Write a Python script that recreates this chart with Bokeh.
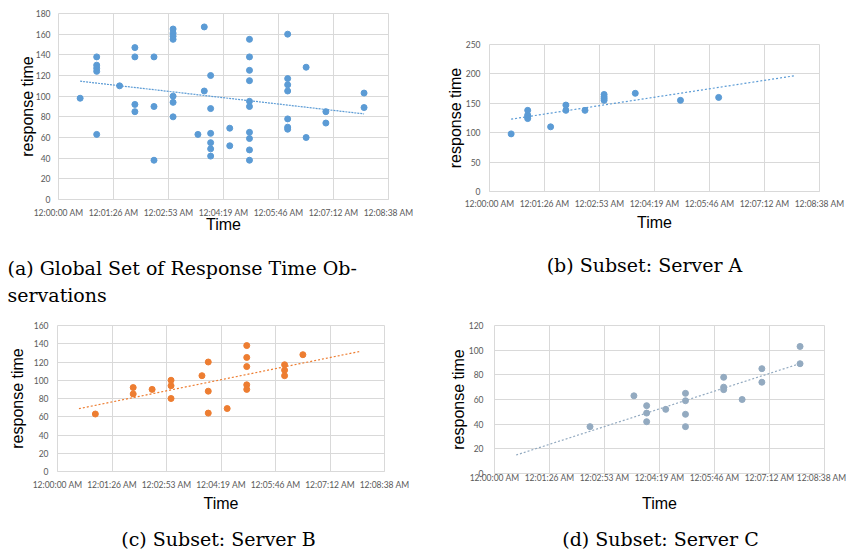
import numpy as np
from bokeh.plotting import figure
from bokeh.models import Range1d, FixedTicker
from bokeh.core.properties import value
from bokeh.layouts import column, row
from bokeh.embed import file_html
from bokeh.resources import INLINE

# x axis: seconds after 12:00:00 AM
time_ticks = [0.0, 86.4, 172.8, 259.2, 345.6, 432.0, 518.4]
time_tick_labels = ["12:00:00 AM", "12:01:26 AM", "12:02:53 AM", "12:04:19 AM",
                    "12:05:46 AM", "12:07:12 AM", "12:08:38 AM"]

server_a_time = [34, 60, 60, 60, 60, 96, 120, 120, 150, 180, 180, 180, 180, 229, 300, 360]
server_a_resp = [98, 138, 130, 127, 124, 110, 147, 138, 138, 165, 161, 158, 155, 167, 155, 160]

server_b_time = [60, 120, 120, 150, 180, 180, 180, 229, 239, 239, 239, 269,
                 300, 300, 300, 300, 300, 360, 360, 360, 389]
server_b_resp = [63, 92, 85, 90, 100, 94, 80, 105, 120, 88, 64, 69,
                 138, 125, 115, 95, 90, 117, 111, 105, 128]

server_c_time = [150, 219, 239, 239, 239, 269, 300, 300, 300, 300, 360, 360, 360,
                 389, 420, 420, 480, 480]
server_c_resp = [38, 63, 55, 49, 42, 52, 65, 59, 48, 38, 78, 70, 68,
                 60, 85, 74, 103, 89]

global_time = server_a_time + server_b_time + server_c_time
global_resp = server_a_resp + server_b_resp + server_c_resp

caption_a = ["(a) Global Set of Response Time Ob-", "servations"]
caption_b = "(b) Subset: Server A"
caption_c = "(c) Subset: Server B"
caption_d = "(d) Subset: Server C"

y_max_a, y_step_a = 180, 20
y_max_b, y_step_b = 250, 50
y_max_c, y_step_c = 160, 20
y_max_d, y_step_d = 120, 20

BLUE = "#5B9BD5"
ORANGE = "#ED7D31"
GREYBLUE = "#93AAC0"
GRID = "#D9D9D9"
TICK_TXT = "#595959"
CAPTION_FONT = "DejaVu Serif"
CAPTION_SIZE = "19px"


def make_panel(times, resp, color, dash, y_max, y_step, width, height,
               left, right, top, bottom, xl_so, xa_so, yl_so, ya_so):
    p = figure(width=width, height=height,
               x_range=Range1d(0, time_ticks[-1]), y_range=Range1d(0, y_max),
               output_backend="svg", toolbar_location=None,
               min_border_left=left, min_border_right=right,
               min_border_top=top, min_border_bottom=bottom,
               background_fill_color="white", border_fill_color="white",
               outline_line_color=GRID)
    p.frame_align = False
    p.scatter(times, resp, size=6, fill_color=color, line_color=color)
    coef = np.polyfit(np.array(times, float), np.array(resp, float), 1)
    tx = np.array([min(global_time), max(global_time)], float)
    ty = np.polyval(coef, tx)
    p.line(tx, ty, line_color=color, line_width=1.2, line_dash=dash)

    p.xaxis.ticker = FixedTicker(ticks=time_ticks)
    p.xaxis.major_label_overrides = {t: l for t, l in zip(time_ticks, time_tick_labels)}
    p.yaxis.ticker = FixedTicker(ticks=list(range(0, y_max + 1, y_step)))
    p.xgrid.ticker = FixedTicker(ticks=time_ticks)
    p.ygrid.ticker = FixedTicker(ticks=list(range(0, y_max + 1, y_step)))
    p.grid.grid_line_color = GRID
    p.grid.grid_line_width = 1

    for ax in (p.xaxis[0], p.yaxis[0]):
        ax.major_tick_line_color = None
        ax.minor_tick_line_color = None
        ax.major_tick_out = 0
        ax.major_tick_in = 0
        ax.minor_tick_out = 0
        ax.minor_tick_in = 0
        ax.major_label_text_font = "Lato"
        ax.major_label_text_font_size = "8.5px"
        ax.major_label_text_color = TICK_TXT
        ax.axis_label_text_font = "Liberation Sans"
        ax.axis_label_text_font_size = "16px"
        ax.axis_label_text_font_style = "normal"
        ax.axis_label_text_color = "black"
    p.xaxis.axis_line_color = GRID
    p.yaxis.axis_line_color = None
    p.xaxis.axis_label = "Time"
    p.yaxis.axis_label = "response time"
    p.xaxis.major_label_standoff = xl_so
    p.xaxis.axis_label_standoff = xa_so
    p.yaxis.major_label_standoff = yl_so
    p.yaxis.axis_label_standoff = ya_so
    return p


def caption_strip(height, xs, ys, texts, aligns):
    c = figure(width=846, height=height, x_range=Range1d(0, 846), y_range=Range1d(0, height),
               output_backend="svg", toolbar_location=None,
               x_axis_type=None, y_axis_type=None, min_border=0,
               outline_line_color=None, background_fill_color="white",
               border_fill_color="white")
    c.frame_align = False
    c.grid.visible = False
    for x, y, t, a in zip(xs, ys, texts, aligns):
        c.text(x=[x], y=[y], text=[t], text_align=a, text_baseline="middle",
               text_font=value(CAPTION_FONT), text_font_size=CAPTION_SIZE,
               text_color="black")
    return c


# row 1: plots occupy y 0..245, caption strip y 245..310
pa = make_panel(global_time, global_resp, BLUE, "2 1", y_max_a, y_step_a,
                432, 245, 58, 44, 13, 46, 8, -5, 8, -3)
pb = make_panel(server_a_time, server_a_resp, BLUE, "2 2", y_max_b, y_step_b,
                414, 245, 57, 27, 44, 54, 7, 2, 9, -1)
cap1 = caption_strip(65, [7, 7, 644], [43, 16, 46],
                     [caption_a[0], caption_a[1], caption_b],
                     ["left", "left", "center"])

# row 2: plots occupy y 310..520, caption strip y 520..553
pc = make_panel(server_b_time, server_b_resp, ORANGE, "2 2", y_max_c, y_step_c,
                432, 210, 57, 48, 15, 49, 8, 2, 9, 5)
pd = make_panel(server_c_time, server_c_resp, GREYBLUE, "2 2", y_max_d, y_step_d,
                414, 210, 62, 22, 15, 47, -1, 9, 11, -1)
cap2 = caption_strip(33, [218, 660], [15, 15], [caption_c, caption_d],
                     ["center", "center"])

layout = column(row(pa, pb), cap1, row(pc, pd), cap2)
open("out.html", "w").write(file_html(layout, INLINE))
